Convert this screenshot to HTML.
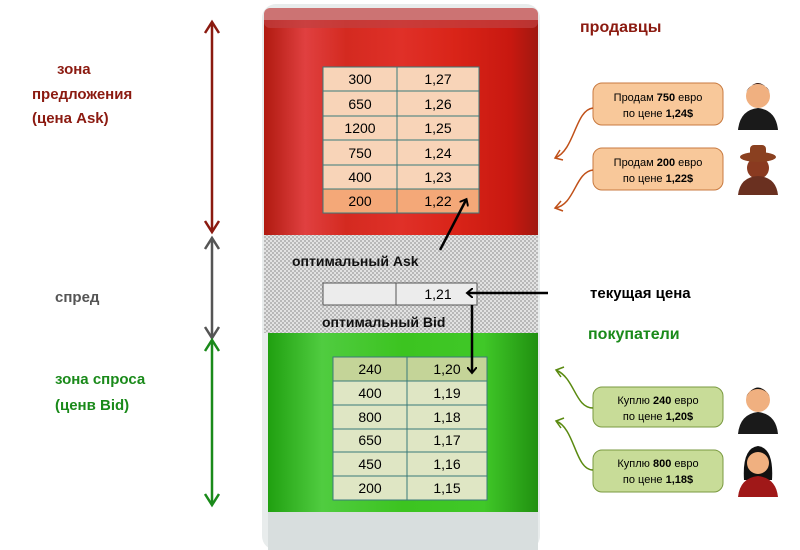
<!DOCTYPE html>
<html><head><meta charset="utf-8"><style>
body{margin:0;background:#fff;width:800px;height:550px;overflow:hidden}
svg{display:block}
text{font-family:"Liberation Sans","DejaVu Sans",sans-serif}
</style></head><body>
<svg width="800" height="550" viewBox="0 0 800 550" xmlns="http://www.w3.org/2000/svg">
<defs>
<linearGradient id="red" x1="0" x2="1" y1="0" y2="0">
<stop offset="0" stop-color="#b01a10"/><stop offset="0.15" stop-color="#e04040"/><stop offset="0.3" stop-color="#d42a20"/><stop offset="0.5" stop-color="#e03028"/><stop offset="0.7" stop-color="#d92418"/><stop offset="0.9" stop-color="#c81810"/><stop offset="1" stop-color="#a01810"/></linearGradient>
<linearGradient id="grn" x1="0" x2="1" y1="0" y2="0">
<stop offset="0" stop-color="#20a010"/><stop offset="0.2" stop-color="#50cc40"/><stop offset="0.5" stop-color="#3cc420"/><stop offset="0.8" stop-color="#40c828"/><stop offset="1" stop-color="#209010"/></linearGradient>
<pattern id="chk" width="4" height="4" patternUnits="userSpaceOnUse"><rect width="4" height="4" fill="#e2e2e2"/><rect width="2" height="2" fill="#b8b8b8"/><rect x="2" y="2" width="2" height="2" fill="#b8b8b8"/></pattern>
<marker id="ah" markerWidth="10" markerHeight="10" refX="5" refY="5" orient="auto" markerUnits="userSpaceOnUse"><path d="M0,0 L6,5 L0,10" fill="none" stroke="#000" stroke-width="2"/></marker>
</defs>
<rect x="262" y="4" width="278" height="546" rx="14" fill="#e8ecec"/>
<rect x="264" y="20" width="274" height="215" fill="url(#red)"/>
<rect x="264" y="8" width="274" height="20" rx="6" fill="#c04040" opacity="0.7"/>
<rect x="264" y="235" width="274" height="98" fill="url(#chk)"/>
<rect x="268" y="333" width="270" height="185" fill="url(#grn)"/>
<rect x="268" y="512" width="270" height="38" fill="#d8dede"/>
<g font-size="14" text-anchor="middle" fill="#000">
<rect x="323" y="67" width="156" height="146" fill="#f8d4b8" stroke="#3a7a7a"/>
<rect x="323" y="189" width="156" height="24" fill="#f4a878" stroke="#3a7a7a"/>
<g stroke="#3a7a7a" stroke-width="1"><line x1="397" y1="67" x2="397" y2="213"/>
<line x1="323" y1="91" x2="479" y2="91"/><line x1="323" y1="116" x2="479" y2="116"/><line x1="323" y1="140" x2="479" y2="140"/><line x1="323" y1="165" x2="479" y2="165"/></g>
<text x="360" y="84">300</text><text x="438" y="84">1,27</text>
<text x="360" y="109">650</text><text x="438" y="109">1,26</text>
<text x="360" y="133">1200</text><text x="438" y="133">1,25</text>
<text x="360" y="158">750</text><text x="438" y="158">1,24</text>
<text x="360" y="182">400</text><text x="438" y="182">1,23</text>
<text x="360" y="206">200</text><text x="438" y="206">1,22</text>
<rect x="323" y="283" width="154" height="22" fill="#ececec" stroke="#555"/>
<line x1="396" y1="283" x2="396" y2="305" stroke="#555"/>
<text x="438" y="299">1,21</text>
<rect x="333" y="357" width="154" height="143" fill="#dfe6c4" stroke="#3a7a7a"/>
<rect x="333" y="357" width="154" height="24" fill="#c4d498" stroke="#3a7a7a"/>
<g stroke="#3a7a7a"><line x1="407" y1="357" x2="407" y2="500"/>
<line x1="333" y1="405" x2="487" y2="405"/><line x1="333" y1="429" x2="487" y2="429"/><line x1="333" y1="452" x2="487" y2="452"/><line x1="333" y1="476" x2="487" y2="476"/></g>
<text x="370" y="374">240</text><text x="447" y="374">1,20</text>
<text x="370" y="398">400</text><text x="447" y="398">1,19</text>
<text x="370" y="422">800</text><text x="447" y="422">1,18</text>
<text x="370" y="445">650</text><text x="447" y="445">1,17</text>
<text x="370" y="469">450</text><text x="447" y="469">1,16</text>
<text x="370" y="493">200</text><text x="447" y="493">1,15</text>
</g>
<text x="292" y="266" font-size="14" font-weight="bold" fill="#111">оптимальный Ask</text>
<text x="322" y="327" font-size="14" font-weight="bold" fill="#111">оптимальный Bid</text>
<g stroke="#000" stroke-width="2.5" fill="none">
<line x1="440" y1="250" x2="466" y2="200" marker-end="url(#ah)"/>
<line x1="548" y1="293" x2="468" y2="293" marker-end="url(#ah)"/>
<line x1="472" y1="305" x2="472" y2="372" marker-end="url(#ah)"/>
</g>
<text x="590" y="298" font-size="15" font-weight="bold" fill="#000">текущая цена</text>
<g stroke-width="2.5" fill="none">
<g stroke="#8b1a10"><line x1="212" y1="22" x2="212" y2="232"/><path d="M205,33 L212,22 L219,33 M205,221 L212,232 L219,221"/></g>
<g stroke="#555"><line x1="212" y1="238" x2="212" y2="338"/><path d="M205,249 L212,238 L219,249 M205,327 L212,338 L219,327"/></g>
<g stroke="#1a8a1a"><line x1="212" y1="340" x2="212" y2="505"/><path d="M205,351 L212,340 L219,351 M205,494 L212,505 L219,494"/></g>
</g>
<g font-size="15" font-weight="bold">
<text x="57" y="74" fill="#8b1a10">зона</text>
<text x="32" y="99" fill="#8b1a10">предложения</text>
<text x="32" y="123" fill="#8b1a10">(цена Ask)</text>
<text x="55" y="302" fill="#555">спред</text>
<text x="55" y="384" fill="#1a8a1a">зона спроса</text>
<text x="55" y="410" fill="#1a8a1a">(ценв Bid)</text>
<text x="580" y="32" fill="#8b1a10" font-size="16">продавцы</text>
<text x="588" y="339" fill="#1a8a1a" font-size="16">покупатели</text>
</g>
<g font-size="11" text-anchor="middle">
<rect x="593" y="83" width="130" height="42" rx="9" fill="#f8c89a" stroke="#c87a40"/>
<text x="658" y="101">Продам <tspan font-weight="bold">750</tspan> евро</text><text x="658" y="117">по цене <tspan font-weight="bold">1,24$</tspan></text>
<rect x="593" y="148" width="130" height="42" rx="9" fill="#f8c89a" stroke="#c87a40"/>
<text x="658" y="166">Продам <tspan font-weight="bold">200</tspan> евро</text><text x="658" y="182">по цене <tspan font-weight="bold">1,22$</tspan></text>
<rect x="593" y="387" width="130" height="40" rx="9" fill="#c8dc98" stroke="#7a9a40"/>
<text x="658" y="404">Куплю <tspan font-weight="bold">240</tspan> евро</text><text x="658" y="420">по цене <tspan font-weight="bold">1,20$</tspan></text>
<rect x="593" y="450" width="130" height="42" rx="9" fill="#c8dc98" stroke="#7a9a40"/>
<text x="658" y="467">Куплю <tspan font-weight="bold">800</tspan> евро</text><text x="658" y="483">по цене <tspan font-weight="bold">1,18$</tspan></text>
</g>
<g fill="none" stroke-width="1.5">
<path d="M593,108 C575,110 575,150 555,158 M560,150 L555,158 L563,160" stroke="#c05018"/>
<path d="M593,170 C575,172 575,205 555,208 M561,201 L555,208 L563,211" stroke="#c05018"/>
<path d="M593,408 C575,408 575,378 556,370 M564,367 L556,370 L561,377" stroke="#5a8a10"/>
<path d="M593,470 C575,470 575,428 556,421 M564,418 L556,421 L561,428" stroke="#5a8a10"/>
</g>
<g>
<circle cx="758" cy="96" r="12" fill="#f0b080"/><path d="M746,92 Q758,74 770,92 Q766,84 758,84 Q750,84 746,92Z" fill="#3a1a10"/><path d="M738,130 Q740,110 758,108 Q776,110 778,130Z" fill="#1a1a1a"/>
<circle cx="758" cy="168" r="11" fill="#8a3a20"/><ellipse cx="758" cy="157" rx="18" ry="5" fill="#8a4020"/><rect x="750" y="145" width="16" height="12" rx="4" fill="#8a4020"/><path d="M738,195 Q740,177 758,176 Q776,177 778,195Z" fill="#6a3020"/>
<circle cx="758" cy="400" r="12" fill="#f0b080"/><path d="M746,397 Q758,378 770,397 Q766,389 758,389 Q750,389 746,397Z" fill="#111"/><path d="M738,434 Q740,414 758,412 Q776,414 778,434Z" fill="#1a1a1a"/>
<path d="M744,480 Q742,448 758,446 Q774,448 772,480Z" fill="#111"/><circle cx="758" cy="463" r="11" fill="#f0b080"/><path d="M738,497 Q740,478 758,476 Q776,478 778,497Z" fill="#a01818"/>
</g>
</svg>
</body></html>
